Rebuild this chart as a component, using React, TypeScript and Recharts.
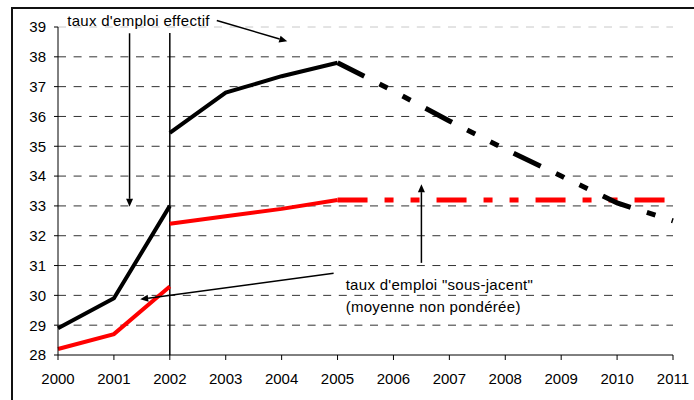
import React from "react";
import { LineChart, Line, XAxis, YAxis, CartesianGrid, ReferenceLine } from "recharts";

const years = [2000, 2001, 2002, 2003, 2004, 2005, 2006, 2007, 2008, 2009, 2010, 2011];
const yTicks = [28, 29, 30, 31, 32, 33, 34, 35, 36, 37, 38, 39];

// taux d'emploi effectif
const effectifAvant = [28.9, 29.9, 33.0, null, null, null, null, null, null, null, null, null];
const effectifApres = [null, null, 35.45, 36.8, 37.35, 37.8, null, null, null, null, null, null];
const effectifProjection = [null, null, null, null, null, 37.8, 36.85, 35.85, 34.9, 34.0, 33.1, 32.5];

// taux d'emploi "sous-jacent"
const sousJacentAvant = [28.2, 28.7, 30.3, null, null, null, null, null, null, null, null, null];
const sousJacentApres = [null, null, 32.4, 32.65, 32.9, 33.2, null, null, null, null, null, null];
const sousJacentProjection = [null, null, null, null, null, 33.2, 33.2, 33.2, 33.2, 33.2, 33.2, 33.2];

const labelEffectif = ["taux d'emploi effectif"];
const labelSousJacent = ["taux d'emploi \"sous-jacent\"", "(moyenne non pondérée)"];

const data = years.map((year, i) => ({
  year,
  effA: effectifAvant[i],
  effB: effectifApres[i],
  effC: effectifProjection[i],
  subA: sousJacentAvant[i],
  subB: sousJacentApres[i],
  subC: sousJacentProjection[i],
}));

const FONT = "'Liberation Sans', Arial, sans-serif";
const DASH = "30 17 9 17 9 17";

// arrow drawn from (x1,y1) to (x2,y2), head at the end, optional text near the start
function makeArrow(lines: string[] = [], dx = 0, dy = 0, anchor = "start", lineGap = 21.5) {
  return (props: any) => {
    const { x1, y1, x2, y2 } = props;
    const ang = Math.atan2(y2 - y1, x2 - x1);
    const len = 8;
    const half = 3.5;
    const cos = Math.cos(ang);
    const sin = Math.sin(ang);
    const bx = x2 - len * cos;
    const by = y2 - len * sin;
    const pts = `${x2},${y2} ${bx - half * sin},${by + half * cos} ${bx + half * sin},${by - half * cos}`;
    return (
      <g>
        <line x1={x1} y1={y1} x2={bx} y2={by} stroke="#000" strokeWidth={1.5} />
        <polygon points={pts} fill="#000" />
        {lines.map((t, i) => (
          <text
            key={i}
            x={x1 + dx}
            y={y1 + dy + i * lineGap}
            textAnchor={anchor}
            fontSize={15}
            fontFamily={FONT}
            letterSpacing={0.3}
            fill="#000"
          >
            {t}
          </text>
        ))}
      </g>
    );
  };
}

export default function App() {
  return (
    <div
      style={{
        position: "absolute",
        left: 0,
        top: 0,
        width: 694,
        height: 400,
        overflow: "hidden",
        background: "#fff",
        fontFamily: FONT,
      }}
    >
      <div
        style={{
          position: "absolute",
          left: 11,
          top: 7,
          width: 720,
          height: 420,
          border: "2px solid #111",
        }}
      />
      <div style={{ position: "absolute", left: 0, top: 0 }}>
        <LineChart
          width={694}
          height={400}
          data={data}
          margin={{ top: 27, right: 21, bottom: 15, left: 18 }}
        >
          <CartesianGrid
            vertical={false}
            horizontalValues={[29, 30, 31, 32, 33, 34, 35, 36, 37, 38]}
            stroke="#333"
            strokeDasharray="8 7.6"
          />
          <ReferenceLine y={39} stroke="#c8c8c8" strokeDasharray="8 7.6" />
          <XAxis
            type="number"
            dataKey="year"
            domain={[2000, 2011]}
            ticks={years}
            interval={0}
            height={30}
            tickSize={5}
            tickMargin={13}
            axisLine={{ stroke: "#000" }}
            tickLine={{ stroke: "#000" }}
            tick={{ fill: "#000", fontSize: 15, fontFamily: FONT }}
          />
          <YAxis
            domain={[28, 39]}
            ticks={yTicks}
            interval={0}
            width={40}
            tickSize={4}
            tickMargin={8}
            axisLine={{ stroke: "#000" }}
            tickLine={{ stroke: "#000" }}
            tick={{ fill: "#000", fontSize: 15, fontFamily: FONT }}
          />
          <ReferenceLine
            segment={[{ x: 2002, y: 28 }, { x: 2002, y: 38.8 }]}
            stroke="#000"
            strokeWidth={1.5}
            ifOverflow="visible"
          />
          <Line dataKey="subA" stroke="#ff0000" strokeWidth={4} dot={false} isAnimationActive={false} />
          <Line dataKey="subB" stroke="#ff0000" strokeWidth={4} dot={false} isAnimationActive={false} />
          <Line
            dataKey="subC"
            stroke="#ff0000"
            strokeWidth={5}
            strokeDasharray={DASH}
            dot={false}
            isAnimationActive={false}
          />
          <Line dataKey="effA" stroke="#000" strokeWidth={4} dot={false} isAnimationActive={false} />
          <Line dataKey="effB" stroke="#000" strokeWidth={4} dot={false} isAnimationActive={false} />
          <Line
            dataKey="effC"
            stroke="#000"
            strokeWidth={5}
            strokeDasharray={DASH}
            dot={false}
            isAnimationActive={false}
          />
          <ReferenceLine
            segment={[{ x: 2002.84, y: 39.22 }, { x: 2004.1, y: 38.52 }]}
            ifOverflow="visible"
            shape={makeArrow(labelEffectif, -7, 6, "end")}
          />
          <ReferenceLine
            segment={[{ x: 2001.28, y: 38.79 }, { x: 2001.28, y: 32.97 }]}
            ifOverflow="visible"
            shape={makeArrow()}
          />
          <ReferenceLine
            segment={[{ x: 2004.93, y: 30.74 }, { x: 2001.47, y: 29.87 }]}
            ifOverflow="visible"
            shape={makeArrow(labelSousJacent, 12, 17, "start")}
          />
          <ReferenceLine
            segment={[{ x: 2006.5, y: 31.09 }, { x: 2006.5, y: 33.73 }]}
            ifOverflow="visible"
            shape={makeArrow()}
          />
        </LineChart>
      </div>
    </div>
  );
}
